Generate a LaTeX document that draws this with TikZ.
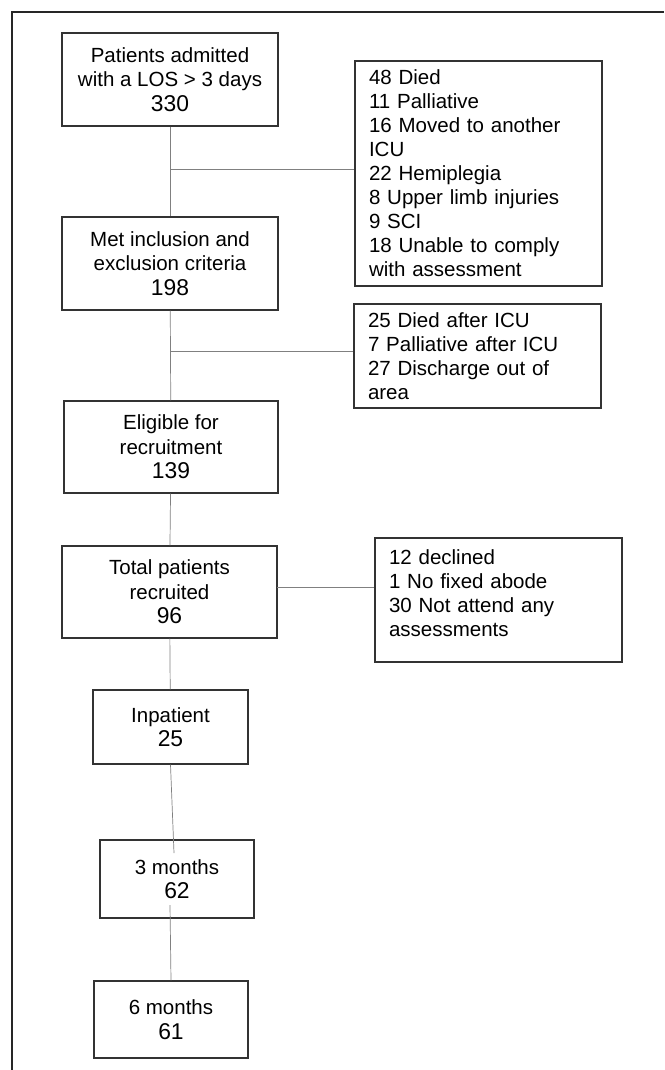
\documentclass[tikz,border=0pt]{standalone}
\usepackage{fontspec}
\setmainfont{Liberation Sans}
\usetikzlibrary{positioning}
\newcommand{\flowcount}[1]{{\fontsize{19.5}{22}\selectfont #1}}

\begin{document}
\begin{tikzpicture}[x=0.03cm, y=-0.03cm,
    stage/.style={draw=black!80, line width=1.1pt, align=center, inner sep=0pt,
      font=\fontsize{17.5}{21}\selectfont},
    lost/.style={draw=black!80, line width=1.1pt, align=left, text width=6.57cm,
      inner xsep=0.42cm, inner ysep=0pt, font=\fontsize{17.5}{20.5}\selectfont},
    link/.style={draw=black!50, line width=0.6pt}]
  \useasboundingbox (0,0) rectangle (664,1070);
  % outer frame
  \draw[line width=0.9pt, black!85] (12,1070) -- (12,12) -- (664,12);

  % main column
  \node[stage, minimum width=6.48cm, minimum height=2.79cm] (admit) at (170,79.5)
    {Patients admitted\\with a LOS > 3 days\\\flowcount{330}};
  \node[stage, minimum width=6.48cm, minimum height=2.79cm] (crit) at (170,263.5)
    {Met inclusion and\\exclusion criteria\\\flowcount{198}};
  \node[stage, minimum width=6.42cm, minimum height=2.76cm] (elig) at (171,447)
    {Eligible for\\recruitment\\\flowcount{139}};
  \node[stage, minimum width=6.45cm, minimum height=2.76cm] (recr) at (169.5,592)
    {Total patients\\recruited\\\flowcount{96}};
  \node[stage, minimum width=4.65cm, minimum height=2.22cm] (inpat) at (170.5,727)
    {Inpatient\\\flowcount{25}};
  \node[stage, minimum width=4.62cm, minimum height=2.34cm] (three) at (177,879)
    {3 months\\\flowcount{62}};
  \node[stage, minimum width=4.62cm, minimum height=2.31cm] (six) at (171,1019.5)
    {6 months\\\flowcount{61}};

  % excluded patients
  \node[lost, minimum height=6.75cm] (out1) at (478.5,173.5)
    {48 Died\\11 Palliative\\16 Moved to another\\ICU\\22 Hemiplegia\\8 Upper limb injuries\\9 SCI\\18 Unable to comply\\with assessment};
  \node[lost, minimum height=3.12cm] (out2) at (477.5,356)
    {25 Died after ICU\\7 Palliative after ICU\\27 Discharge out of\\area};
  \node[lost, minimum height=3.72cm] (out3) at (498.5,600)
    {12 declined\\1 No fixed abode\\30 Not attend any\\assessments\\[-8pt]\mbox{}};

  \coordinate (j1) at (171,169);
  \coordinate (j2) at (171,351);
  \coordinate (j3) at (277,587);
  \coordinate (e5) at (174,853);
  \coordinate (s6) at (170,905);

  \draw[link] (admit) -- (crit);
  \draw[link] (j1) -- (out1.west |- j1);
  \draw[link] (crit) -- (elig);
  \draw[link] (j2) -- (out2.west |- j2);
  \draw[link] (elig) -- (recr);
  \draw[link] (j3) -- (out3.west |- j3);
  \draw[link] (recr) -- (inpat);
  \draw[link] (inpat.south) -- (e5);
  \draw[link] (s6) -- (six.north);
\end{tikzpicture}
\end{document}
